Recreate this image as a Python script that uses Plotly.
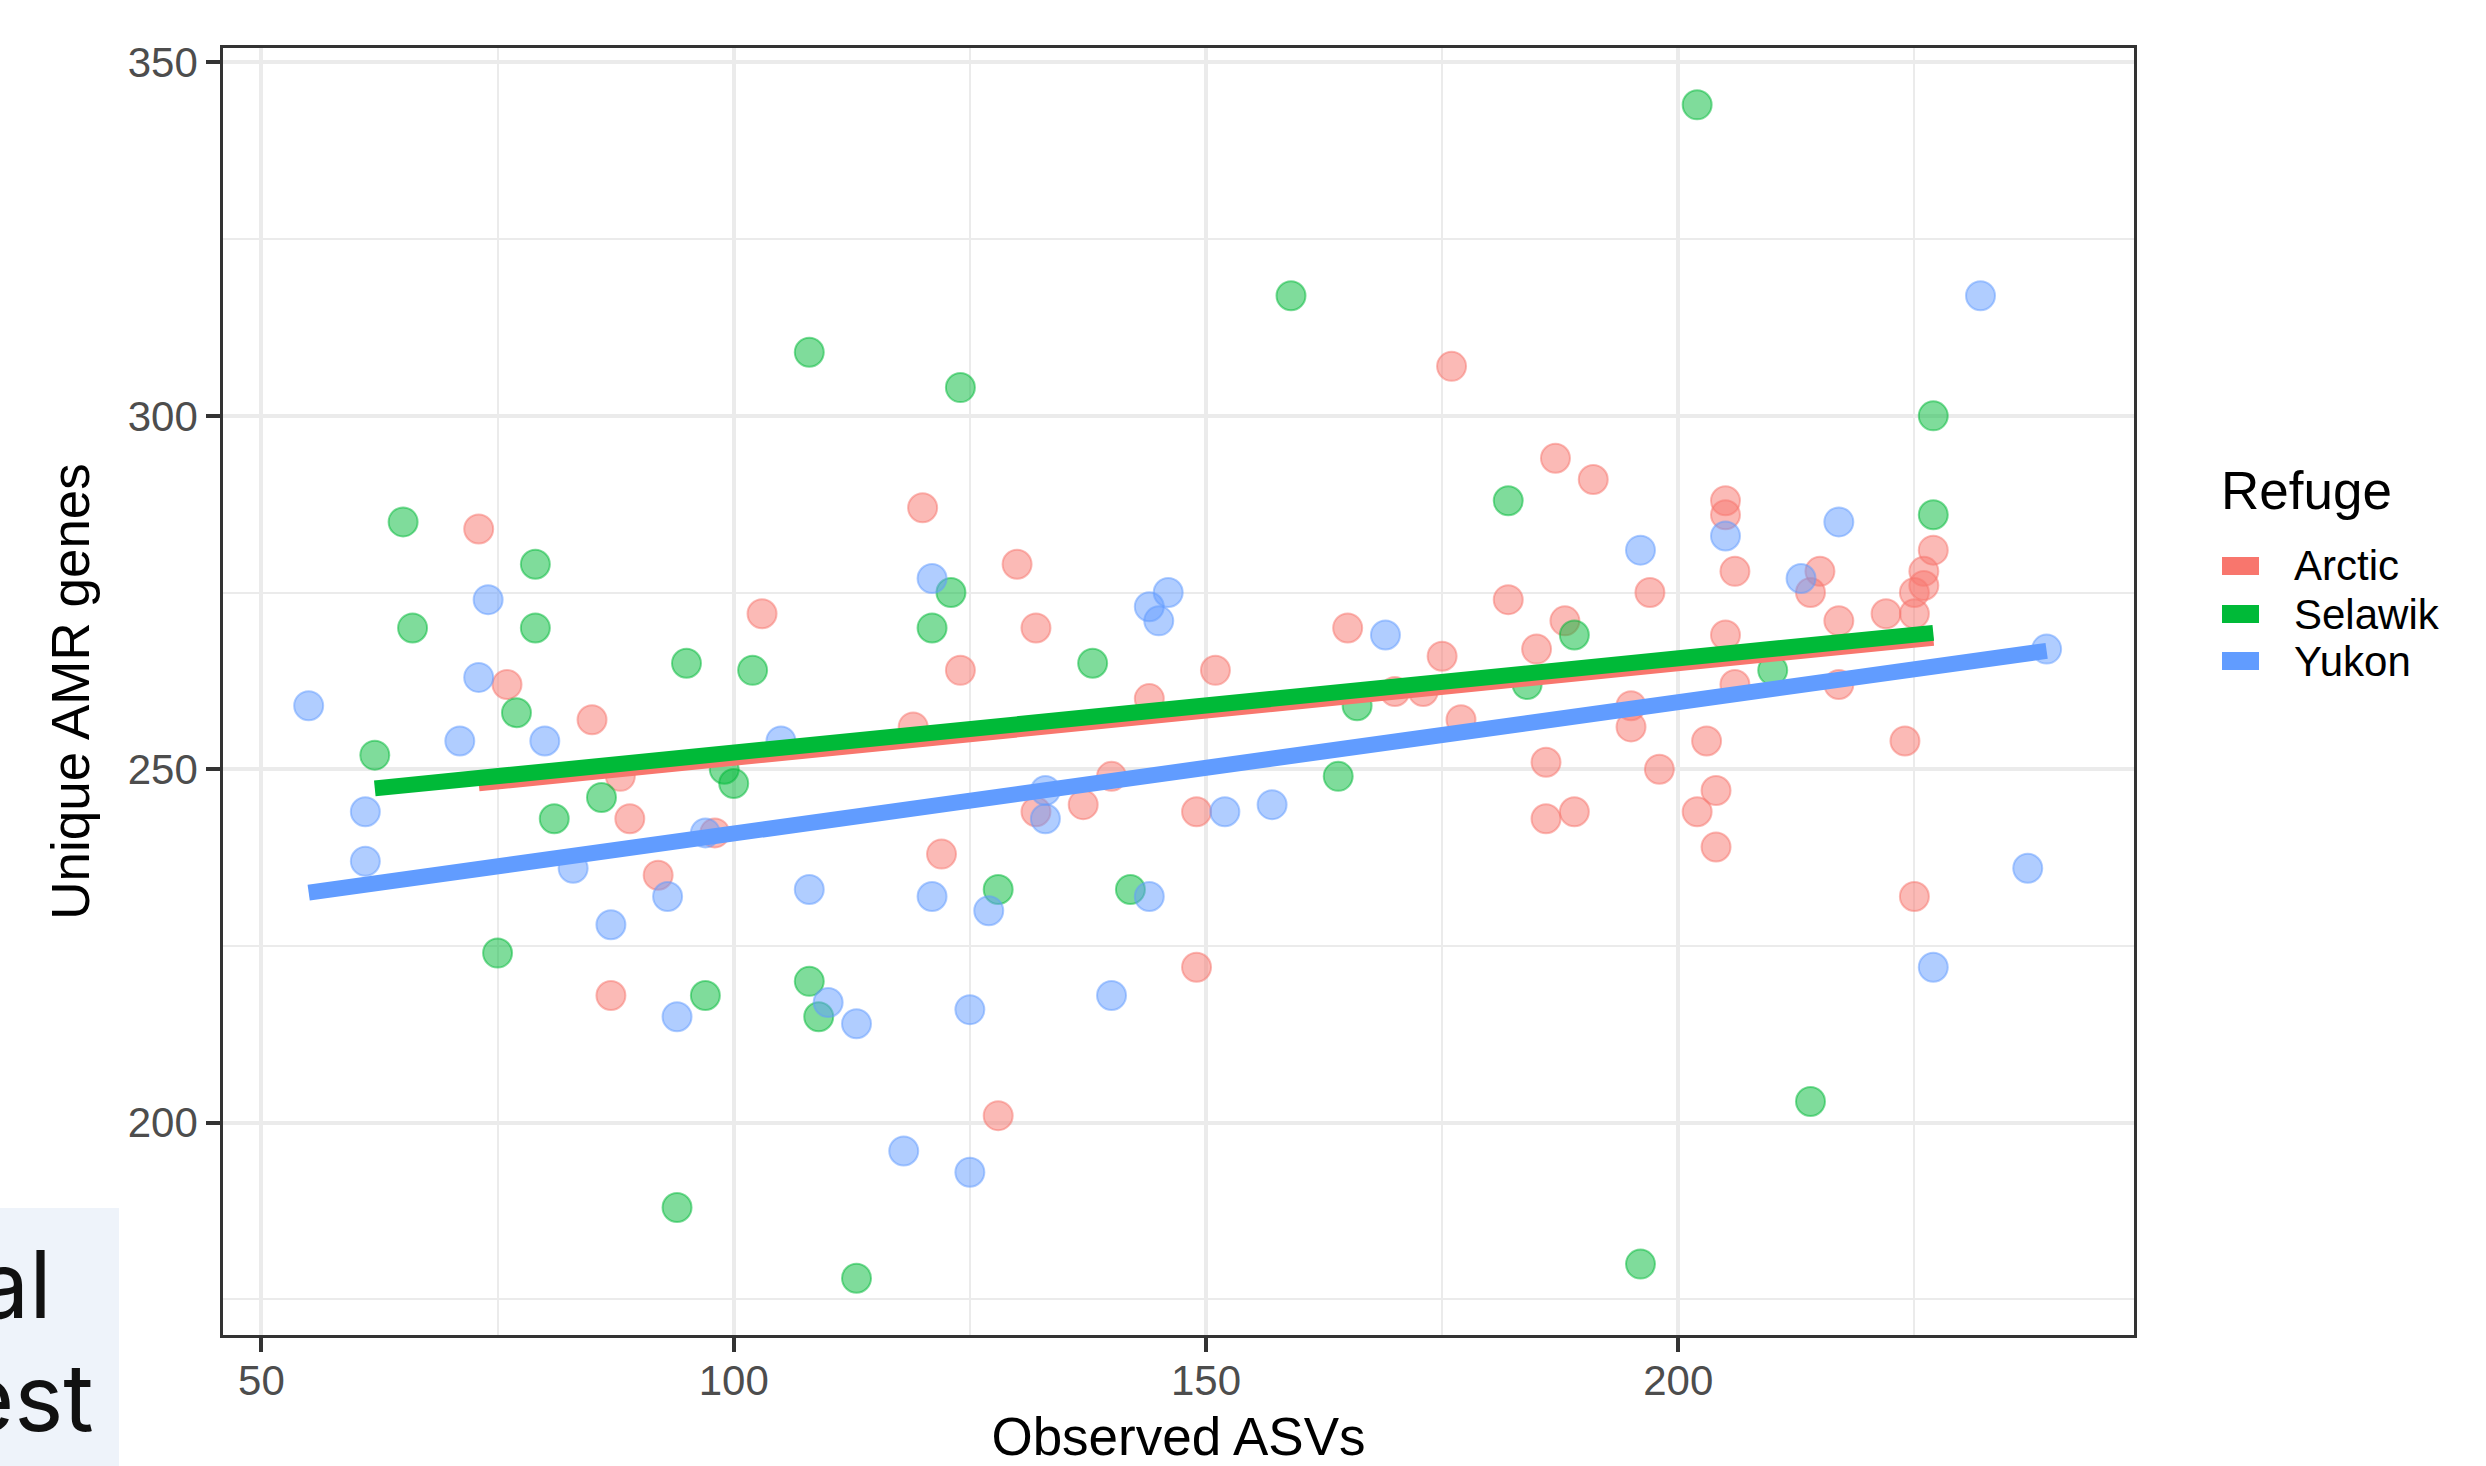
import numpy as np
import plotly.graph_objects as go

# ---------------- data ----------------
refuges = ["Arctic", "Selawik", "Yukon"]

arctic_x = [73, 76, 85, 88, 89, 87, 92, 98, 103, 120, 119, 122, 124, 130, 132, 132, 128,
            137, 140, 144, 149, 149, 151, 165, 170, 173, 175, 176, 177, 182, 185, 186,
            186, 187, 188, 189, 191, 195, 195, 197, 198, 202, 203, 204, 204, 205, 205,
            205, 206, 206, 214, 215, 217, 217, 222, 224, 225, 225, 225, 226, 226, 227]
arctic_y = [284, 262, 257, 249, 243, 218, 235, 241, 272, 287, 256, 238, 264, 279, 270, 244, 201,
            245, 249, 260, 244, 222, 264, 270, 261, 261, 266, 307, 257, 274, 267, 251,
            243, 294, 271, 244, 291, 259, 256, 275, 250, 244, 254, 247, 239, 288, 286,
            269, 278, 262, 275, 278, 271, 262, 272, 254, 275, 272, 232, 278, 276, 281]

selawik_x = [65, 66, 62, 79, 79, 77, 81, 86, 75, 95, 102, 99, 100, 97, 94, 108, 108, 109,
             113, 124, 121, 123, 128, 138, 142, 159, 166, 164, 182, 184, 189, 202, 196,
             210, 214, 227, 227]
selawik_y = [285, 270, 252, 279, 270, 258, 243, 246, 224, 265, 264, 250, 248, 218, 188, 309, 220, 215,
             178, 304, 270, 275, 233, 265, 233, 317, 259, 249, 288, 262, 269, 344, 180,
             264, 203, 300, 286]

yukon_x = [55, 61, 61, 71, 73, 74, 80, 83, 87, 93, 94, 97, 105, 108, 110, 113, 118, 121,
           121, 125, 125, 127, 133, 133, 140, 144, 144, 145, 146, 152, 157, 169, 196, 205,
           213, 217, 232, 239, 237, 227]
yukon_y = [259, 244, 237, 254, 263, 274, 254, 236, 228, 232, 215, 241, 254, 233, 217, 214, 196, 232,
           277, 216, 193, 230, 247, 243, 218, 232, 273, 271, 275, 244, 245, 269, 281, 283,
           277, 285, 317, 267, 236, 222]

series_x = {"Arctic": arctic_x, "Selawik": selawik_x, "Yukon": yukon_x}
series_y = {"Arctic": arctic_y, "Selawik": selawik_y, "Yukon": yukon_y}

colors = {"Arctic": "#F8766D", "Selawik": "#00BA38", "Yukon": "#619CFF"}
rgba = {"Arctic": "rgba(248,118,109,0.5)", "Selawik": "rgba(0,186,56,0.5)",
        "Yukon": "rgba(97,156,255,0.5)"}

x_ticks = [50, 100, 150, 200]
y_ticks = [200, 250, 300, 350]

# ---------------- figure ----------------
W, H = 2486, 1466
L, R, T, B = 223, 2134, 48, 1335


def pxx(p):
    return (p - L) / (R - L)


def pxy(p):
    return (B - p) / (B - T)


FONT = "Liberation Sans, Arial, sans-serif"

fig = go.Figure()

for r in refuges:
    fig.add_trace(go.Scatter(
        x=series_x[r], y=series_y[r], mode="markers", name=r, showlegend=False,
        marker=dict(size=29, color=rgba[r], line=dict(color=rgba[r], width=2)),
    ))

for r in refuges:
    xs = np.array(series_x[r], dtype=float)
    ys = np.array(series_y[r], dtype=float)
    slope, intercept = np.polyfit(xs, ys, 1)
    xl = np.array([xs.min(), xs.max()])
    fig.add_trace(go.Scatter(
        x=xl, y=intercept + slope * xl, mode="lines", name=r, showlegend=False,
        line=dict(color=colors[r], width=16),
    ))

axis_common = dict(
    showline=True, mirror=True, linecolor="#333333", linewidth=2.7,
    ticks="outside", ticklen=14, tickwidth=3.5, tickcolor="#333333",
    showgrid=True, gridcolor="#EBEBEB", gridwidth=3.5, zeroline=False,
    tickfont=dict(family=FONT, size=42, color="#4D4D4D"),
)

fig.update_xaxes(
    range=[45.93, 248.25], tickmode="array", tickvals=x_ticks,
    ticktext=[str(v) for v in x_ticks], ticklabelstandoff=-7,
    minor=dict(tickmode="array", tickvals=[75, 125, 175, 225], showgrid=True,
               gridcolor="#EBEBEB", gridwidth=1.8, ticks=""),
    title=dict(text="Observed ASVs", font=dict(family=FONT, size=53, color="black"),
               standoff=28),
    **axis_common,
)
fig.update_yaxes(
    range=[169.97, 352.04], tickmode="array", tickvals=y_ticks,
    ticktext=[str(v) for v in y_ticks],
    minor=dict(tickmode="array", tickvals=[175, 225, 275, 325], showgrid=True,
               gridcolor="#EBEBEB", gridwidth=1.8, ticks=""),
    title=dict(text="Unique AMR genes", font=dict(family=FONT, size=53, color="black"),
               standoff=22),
    **axis_common,
)

# ---- manual legend ----
annotations = [
    dict(text="Refuge", xref="paper", yref="paper", x=pxx(2219), y=pxy(490),
         xanchor="left", yanchor="middle", showarrow=False,
         font=dict(family=FONT, size=53, color="black")),
]
shapes = []
legend_y = [566, 614, 661]
for r, yy in zip(refuges, legend_y):
    shapes.append(dict(type="line", xref="paper", yref="paper",
                       x0=pxx(2222), x1=pxx(2259), y0=pxy(yy), y1=pxy(yy),
                       line=dict(color=colors[r], width=18)))
    annotations.append(dict(text=r, xref="paper", yref="paper", x=pxx(2292), y=pxy(yy),
                            xanchor="left", yanchor="middle", showarrow=False,
                            font=dict(family=FONT, size=42, color="black")))

# ---- clipped slide fragment at bottom-left ----
shapes.append(dict(type="rect", xref="paper", yref="paper", layer="above",
                   x0=pxx(-10), x1=pxx(119), y0=pxy(1476), y1=pxy(1208),
                   fillcolor="#EEF3FA", line=dict(width=0)))
annotations.append(dict(text="al", xref="paper", yref="paper", x=pxx(54), y=pxy(1284),
                        xanchor="right", yanchor="middle", showarrow=False,
                        font=dict(family="Inter", size=93, color="#111111")))
annotations.append(dict(text="est", xref="paper", yref="paper", x=pxx(96), y=pxy(1397),
                        xanchor="right", yanchor="middle", showarrow=False,
                        font=dict(family="Inter", size=93, color="#111111")))

fig.update_layout(
    width=W, height=H,
    margin=dict(l=L, r=W - R, t=T, b=H - B, autoexpand=False),
    paper_bgcolor="white", plot_bgcolor="white",
    showlegend=False,
    font=dict(family=FONT),
    shapes=shapes, annotations=annotations,
)

fig.write_html("out.html")
